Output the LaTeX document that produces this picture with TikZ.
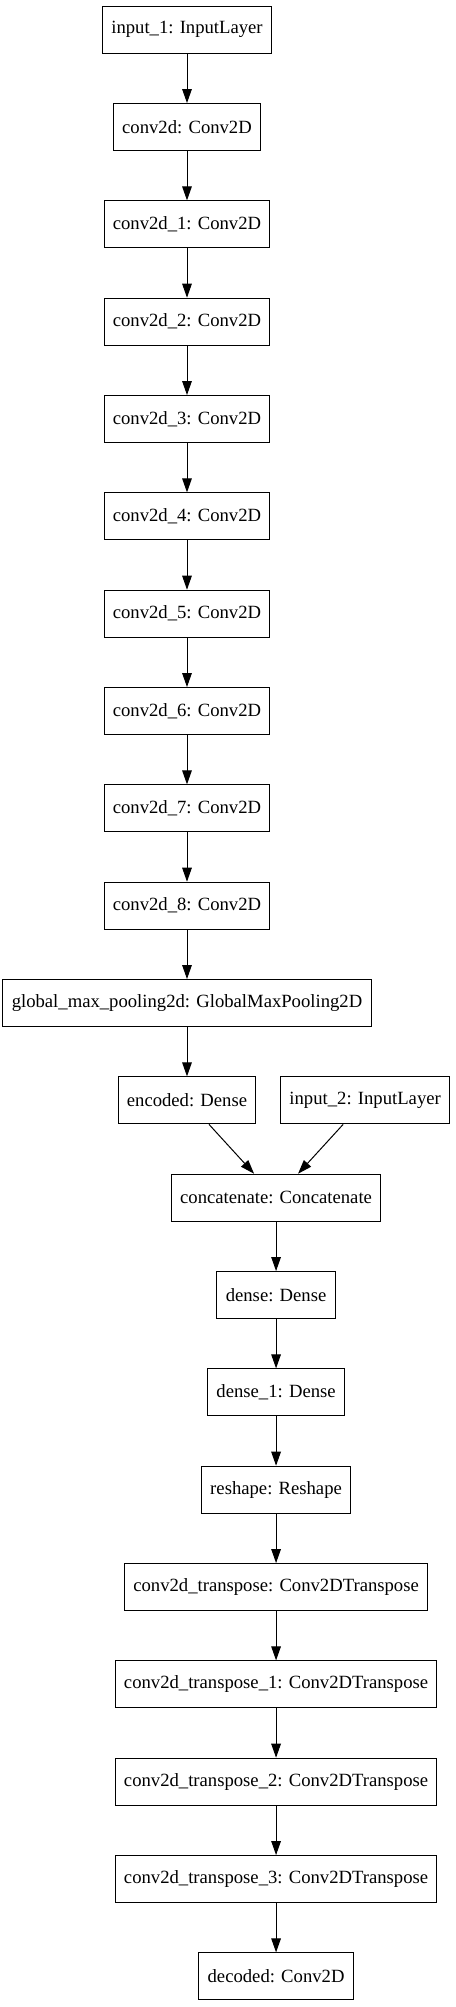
\documentclass[tikz,border=0pt]{standalone}
\usepackage{fontspec}
\setmainfont{Liberation Serif}
\usetikzlibrary{arrows.meta, positioning, calc}

\begin{document}
\begin{tikzpicture}[
    x=0.75pt, y=-0.75pt,
    node distance=37pt and 17.8pt,
    layer/.style={
        rectangle,
        draw=black,
        line width=0.75pt,
        inner xsep=6.6pt,
        minimum height=35.25pt,
        font=\fontsize{14pt}{16pt}\selectfont
    },
    arrow/.style={-{Triangle[length=10.5pt, width=7.2pt]}, line width=0.75pt}
]
\useasboundingbox (0,0) rectangle (455,2007);

% encoder
\node (in1) [layer] at (187,29.7) {input\_1: InputLayer};
\node (c0) [layer, below=of in1] {conv2d: Conv2D};
\node (c1) [layer, below=of c0] {conv2d\_1: Conv2D};
\node (c2) [layer, below=of c1] {conv2d\_2: Conv2D};
\node (c3) [layer, below=of c2] {conv2d\_3: Conv2D};
\node (c4) [layer, below=of c3] {conv2d\_4: Conv2D};
\node (c5) [layer, below=of c4] {conv2d\_5: Conv2D};
\node (c6) [layer, below=of c5] {conv2d\_6: Conv2D};
\node (c7) [layer, below=of c6] {conv2d\_7: Conv2D};
\node (c8) [layer, below=of c7] {conv2d\_8: Conv2D};
\node (gmp) [layer, below=of c8] {global\_max\_pooling2d: GlobalMaxPooling2D};
\node (enc) [layer, below=of gmp] {encoded: Dense};
\node (in2) [layer, right=of enc] {input\_2: InputLayer};

% decoder
\coordinate (mid) at ($(enc.south)!0.5!(in2.south)$);
\node (cat) [layer, below=of mid] {concatenate: Concatenate};
\node (d0) [layer, below=of cat] {dense: Dense};
\node (d1) [layer, below=of d0] {dense\_1: Dense};
\node (rs) [layer, below=of d1] {reshape: Reshape};
\node (t0) [layer, below=of rs] {conv2d\_transpose: Conv2DTranspose};
\node (t1) [layer, below=of t0] {conv2d\_transpose\_1: Conv2DTranspose};
\node (t2) [layer, below=of t1] {conv2d\_transpose\_2: Conv2DTranspose};
\node (t3) [layer, below=of t2] {conv2d\_transpose\_3: Conv2DTranspose};
\node (dec) [layer, below=of t3] {decoded: Conv2D};

\draw [arrow] (in1) -- (c0);
\draw [arrow] (c0) -- (c1);
\draw [arrow] (c1) -- (c2);
\draw [arrow] (c2) -- (c3);
\draw [arrow] (c3) -- (c4);
\draw [arrow] (c4) -- (c5);
\draw [arrow] (c5) -- (c6);
\draw [arrow] (c6) -- (c7);
\draw [arrow] (c7) -- (c8);
\draw [arrow] (c8) -- (gmp);
\draw [arrow] (gmp) -- (enc);
\draw [arrow] ([xshift=16.5pt]enc.south) -- ([xshift=-16.5pt]cat.north);
\draw [arrow] ([xshift=-16.5pt]in2.south) -- ([xshift=16.5pt]cat.north);
\draw [arrow] (cat) -- (d0);
\draw [arrow] (d0) -- (d1);
\draw [arrow] (d1) -- (rs);
\draw [arrow] (rs) -- (t0);
\draw [arrow] (t0) -- (t1);
\draw [arrow] (t1) -- (t2);
\draw [arrow] (t2) -- (t3);
\draw [arrow] (t3) -- (dec);

\end{tikzpicture}
\end{document}
